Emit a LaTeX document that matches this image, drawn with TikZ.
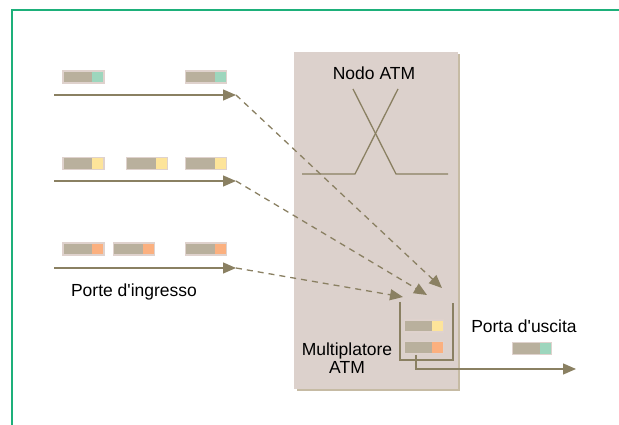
\documentclass[tikz,border=0pt]{standalone}
\usepackage{fontspec}
\setmainfont{Liberation Sans}
\usepackage{tikz}
\usetikzlibrary{arrows.meta}

\definecolor{cornice}{HTML}{1DB07A}
\definecolor{nodofill}{HTML}{DCD1CC}
\definecolor{nodoshadow}{HTML}{C6BBA4}
\definecolor{linea}{HTML}{8A8062}
\definecolor{cellbody}{HTML}{B9B09D}
\definecolor{cellshadow}{HTML}{DFD2CD}
\definecolor{verde}{HTML}{9DD6BD}
\definecolor{giallo}{HTML}{FDE49A}
\definecolor{arancio}{HTML}{FBB07F}

\tikzset{
  cella/.style={rectangle, fill=cellbody, draw=cellshadow, line width=1.5pt,
    minimum width=41pt, minimum height=12pt, inner sep=0pt,
    path picture={\fill[#1] ([xshift=-12pt]path picture bounding box.north east)
      rectangle (path picture bounding box.south east);}},
  freccia/.style={draw=linea, line width=1.3pt, -{Triangle[length=13pt, width=11pt, fill=linea]}},
  tratteggio/.style={freccia, dash pattern=on 6pt off 5pt},
  etichetta/.style={font=\fontsize{17.5}{18.5}\selectfont, inner sep=0pt, align=center}
}

\begin{document}
\begin{tikzpicture}[x=1pt, y=1pt]
  \useasboundingbox (0,0) rectangle (619,425);
  % Frame
  \draw[cornice, line width=1.5pt] (12,0) -- (12,415) -- (619,415);

  % Nodo ATM
  \fill[nodoshadow] (297,34) rectangle (460,371);
  \node[fill=nodofill, minimum width=164pt, minimum height=337pt, inner sep=0pt] (nodo) at (376,204.5) {};
  \node[etichetta] (titolo) at (374,352) {Nodo ATM};
  \draw[linea, line width=1.3pt] (302,251) -- (355,251) -- (398,336);
  \draw[linea, line width=1.3pt] (353,336) -- (396,251) -- (448,251);

  % Input ports
  \node[cella=verde] (c11) at (83.5,348) {};
  \node[cella=verde] (c12) at (206,348) {};
  \node[cella=giallo] (c21) at (83.5,261.5) {};
  \node[cella=giallo] (c22) at (147,261.5) {};
  \node[cella=giallo] (c23) at (206,261.5) {};
  \node[cella=arancio] (c31) at (83.5,176) {};
  \node[cella=arancio] (c32) at (134,176) {};
  \node[cella=arancio] (c33) at (206,176) {};
  \coordinate (in1) at (54,330);  \coordinate (out1) at (236,330);
  \coordinate (in2) at (54,244);  \coordinate (out2) at (236,244);
  \coordinate (in3) at (54,157);  \coordinate (out3) at (236,157);
  \draw[freccia] (in1) -- (out1);
  \draw[freccia] (in2) -- (out2);
  \draw[freccia] (in3) -- (out3);
  \node[etichetta] (ingresso) at (134,133) {Porte d\textquotesingle ingresso};

  % Multiplatore
  \coordinate (mux1) at (442,137);
  \coordinate (mux2) at (427,130);
  \coordinate (mux3) at (403,128);
  \draw[tratteggio] (out1) -- (mux1);
  \draw[tratteggio] (out2) -- (mux2);
  \draw[tratteggio] (out3) -- (mux3);
  \draw[linea, line width=1.3pt] (400,123) -- (400,65) -- (453,65) -- (453,122);
  \node[cella=giallo, minimum width=39pt] (m1) at (424,99) {};
  \node[cella=arancio, minimum width=39pt] (m2) at (424,77.5) {};
  \node[etichetta] (mux) at (347,67) {Multiplatore\\ATM};

  % Output
  \coordinate (uscita) at (576,56);
  \draw[freccia] (416,70) -- (416,56) -- (uscita);
  \node[cella=verde, minimum width=39pt] (c41) at (532,76.5) {};
  \node[etichetta] (porta) at (524,99) {Porta d\textquotesingle uscita};
\end{tikzpicture}
\end{document}
